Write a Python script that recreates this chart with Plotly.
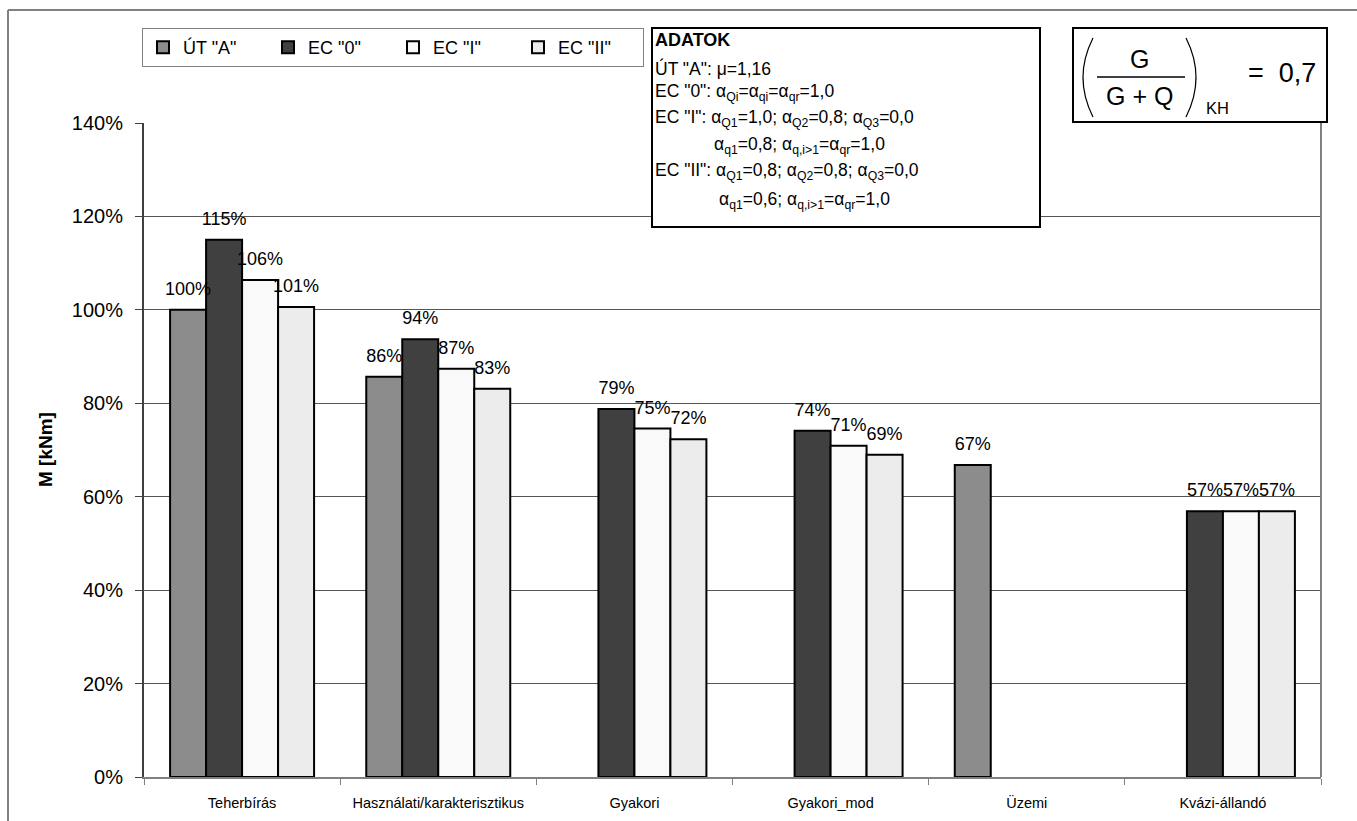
import plotly.graph_objects as go

# ---------------- data ----------------
categories = ["Teherbírás", "Használati/karakterisztikus", "Gyakori",
              "Gyakori_mod", "Üzemi", "Kvázi-állandó"]
series_names = ['ÚT "A"', 'EC "0"', 'EC "I"', 'EC "II"']
ut_a = [1.00, 0.857, None, None, 0.668, None]
ec_0 = [1.15, 0.937, 0.788, 0.741, None, 0.569]
ec_i = [1.064, 0.874, 0.746, 0.709, None, 0.569]
ec_ii = [1.006, 0.831, 0.723, 0.690, None, 0.569]
y_ticks = [0, 0.2, 0.4, 0.6, 0.8, 1.0, 1.2, 1.4]

series_values = [ut_a, ec_0, ec_i, ec_ii]
series_colors = ["#8c8c8c", "#404040", "#f9f9f9", "#ececec"]

FONT = "Arial, 'Liberation Sans', sans-serif"
W, H = 1357, 821
PL, PR, PT, PB = 144, 1321, 123, 777
GAP = 0.266


def px(x):
    return (x - PL) / (PR - PL)


def py(y):
    return (PB - y) / (PB - PT)


fig = go.Figure()
for i, (name, vals, col) in enumerate(zip(series_names, series_values, series_colors)):
    fig.add_trace(go.Bar(
        name=name, x=categories, y=vals, offsetgroup=str(i),
        marker=dict(color=col, line=dict(color="black", width=2)),
    ))
# data labels (grouped scatter text aligned with the bars)
for i, (name, vals) in enumerate(zip(series_names, series_values)):
    fig.add_trace(go.Scatter(
        x=categories, y=vals, offsetgroup=str(i), mode="markers+text",
        text=[None if v is None else f"{round(v * 100)}%" for v in vals],
        textposition="top center",
        textfont=dict(size=18, color="black", family=FONT),
        marker=dict(size=15, opacity=0), showlegend=False,
        cliponaxis=False, hoverinfo="skip",
    ))

shapes = []
# outer chart border (left, top)
shapes.append(dict(type="line", xref="paper", yref="paper",
                   x0=px(8), x1=px(8), y0=py(10), y1=py(830),
                   line=dict(color="#808080", width=2)))
shapes.append(dict(type="line", xref="paper", yref="paper",
                   x0=px(8), x1=px(1360), y0=py(10), y1=py(10),
                   line=dict(color="#808080", width=2)))
# plot area right edge
shapes.append(dict(type="line", xref="paper", yref="paper",
                   x0=1, x1=1, y0=0, y1=1,
                   line=dict(color="#808080", width=2)))
# ADATOK box
shapes.append(dict(type="rect", xref="paper", yref="paper",
                   x0=px(652), x1=px(1040), y0=py(227), y1=py(28),
                   line=dict(color="black", width=2), fillcolor="white",
                   layer="above"))
# formula box
shapes.append(dict(type="rect", xref="paper", yref="paper",
                   x0=px(1073), x1=px(1327), y0=py(122), y1=py(28),
                   line=dict(color="black", width=2), fillcolor="white",
                   layer="above"))
# fraction bar
shapes.append(dict(type="line", xref="paper", yref="paper",
                   x0=px(1097), x1=px(1185), y0=py(77), y1=py(77),
                   line=dict(color="black", width=1.5), layer="above"))


def paren(x_end, x_mid, y0, y1):
    ym = (y0 + y1) / 2
    return (f"M {px(x_end)},{py(y0)} Q {px(x_mid)},{py(ym)} "
            f"{px(x_end)},{py(y1)}")


shapes.append(dict(type="path", xref="paper", yref="paper",
                   path=paren(1093, 1073, 38, 117),
                   line=dict(color="black", width=1.2), layer="above"))
shapes.append(dict(type="path", xref="paper", yref="paper",
                   path=paren(1186, 1206, 38, 117),
                   line=dict(color="black", width=1.2), layer="above"))

annotations = []


def txt(text, x, y, size, xanchor="left", **kw):
    annotations.append(dict(text=text, x=px(x), y=py(y), xref="paper",
                            yref="paper", xanchor=xanchor, yanchor="middle",
                            showarrow=False,
                            font=dict(size=size, color="black", family=FONT),
                            **kw))


a = "α"
TS = 17.5
txt("<b>ADATOK</b>", 653, 40, 18)
txt('ÚT "A": μ=1,16', 653, 68, TS)
txt(f'EC "0": {a}<sub>Qi</sub>={a}<sub>qi</sub>={a}<sub>qr</sub>=1,0', 653, 92, TS)
txt(f'EC "I": {a}<sub>Q1</sub>=1,0; {a}<sub>Q2</sub>=0,8; {a}<sub>Q3</sub>=0,0', 653, 118, TS)
txt(f'{a}<sub>q1</sub>=0,8; {a}<sub>q,i&gt;1</sub>={a}<sub>qr</sub>=1,0', 712, 145, TS)
txt(f'EC "II": {a}<sub>Q1</sub>=0,8; {a}<sub>Q2</sub>=0,8; {a}<sub>Q3</sub>=0,0', 653, 172, TS)
txt(f'{a}<sub>q1</sub>=0,6; {a}<sub>q,i&gt;1</sub>={a}<sub>qr</sub>=1,0', 717, 200, TS)

# formula
txt("G", 1139, 59, 25, xanchor="center")
txt("G + Q", 1139, 96, 25, xanchor="center")
txt("KH", 1217, 108, 16.5, xanchor="center")
txt("=  0,7", 1282, 73, 27, xanchor="center")

# y-axis title
annotations.append(dict(text="<b>M [kNm]</b>", x=px(45), y=0.5, xref="paper",
                        yref="paper", xanchor="center", yanchor="middle",
                        textangle=-90, showarrow=False,
                        font=dict(size=19, color="black", family=FONT)))

fig.update_layout(
    width=W, height=H,
    margin=dict(l=PL, r=W - PR, t=PT, b=H - PB, pad=0, autoexpand=False),
    paper_bgcolor="white", plot_bgcolor="white",
    font=dict(family=FONT, color="black"),
    barmode="group", bargap=GAP, bargroupgap=0,
    scattermode="group", scattergap=GAP,
    showlegend=True,
    legend=dict(orientation="h", x=px(142), y=py(28), xanchor="left",
                yanchor="top", bgcolor="white", bordercolor="#808080",
                borderwidth=1, font=dict(size=18, family=FONT, color="black"),
                entrywidth=80, traceorder="normal"),
    shapes=shapes, annotations=annotations,
    xaxis=dict(type="category", tickson="boundaries", ticks="outside",
               ticklen=6, tickcolor="#808080", showline=True,
               linecolor="#808080", linewidth=2, showgrid=False,
               ticklabelstandoff=12, automargin=False,
               tickfont=dict(size=14.5, family=FONT, color="black"),
               fixedrange=True),
    yaxis=dict(range=[0, 1.4], tickvals=y_ticks, tickformat=".0%",
               ticks="outside", ticklen=7, tickcolor="#404040",
               showline=True, linecolor="#404040", linewidth=2,
               showgrid=True, gridcolor="#555555", gridwidth=1,
               zeroline=False, ticklabelstandoff=8, automargin=False,
               tickfont=dict(size=20, family=FONT, color="black"),
               fixedrange=True),
)

fig.write_html("out.html")
